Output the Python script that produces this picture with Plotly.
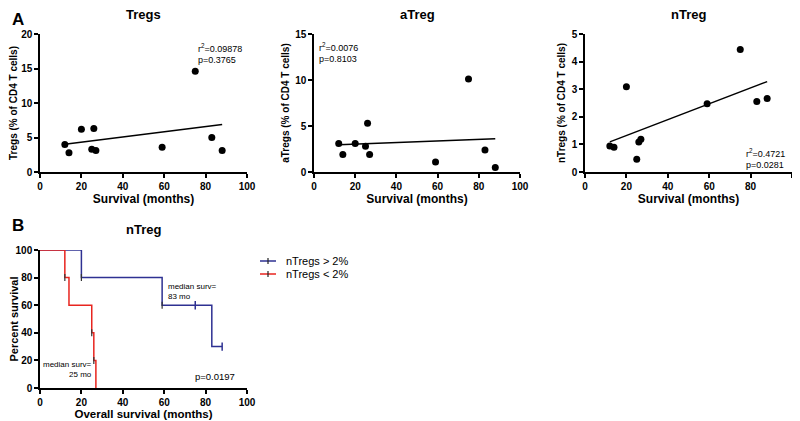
import numpy as np
import plotly.graph_objects as go

# survival (months) of the 10 patients, same for all three scatter panels
survival = [12, 14, 20, 25, 26, 27, 59, 75, 83, 88]
tregs = [4.0, 2.8, 6.2, 3.3, 6.3, 3.1, 3.6, 14.6, 5.0, 3.1]
atregs = [3.1, 1.9, 3.1, 2.8, 5.3, 1.9, 1.1, 10.1, 2.4, 0.5]
ntregs = [0.94, 0.90, 3.09, 0.46, 1.09, 1.19, 2.47, 4.44, 2.55, 2.66]

panel_titles = ["Tregs", "aTreg", "nTreg"]
y_titles = ["Tregs (% of CD4 T cells)", "aTregs (% of CD4 T cells)", "nTregs (% of CD4 T cells)"]
y_max = [20, 15, 5]
y_dtick = [5, 5, 1]
stats = ["r<sup>2</sup>=0.09878<br>p=0.3765", "r<sup>2</sup>=0.0076<br>p=0.8103", "r<sup>2</sup>=0.4721<br>p=0.0281"]

# Kaplan-Meier steps
hi_time = [0, 20, 59, 83, 88]
hi_surv = [100, 80, 60, 30, 30]
hi_cens_time = [75, 88]
hi_cens_surv = [60, 30]
hi_step_time = [20, 59]
hi_step_surv = [80, 60]
lo_time = [0, 12, 14, 25, 26, 27]
lo_surv = [100, 80, 60, 40, 20, 0]
lo_step_time = [12, 25, 26]
lo_step_surv = [80, 40, 20]

# page body has an 8px margin, so the figure is a bit smaller and shifted
OFF = 8
W, H = 800 - OFF, 421 - OFF
FONT = "Liberation Sans, Arial, sans-serif"
BLUE = "#2e3192"
RED = "#e8251f"

def px_x(p):
    return (p - OFF) / W

def px_y(p):
    return 1 - (p - OFF) / H

fig = go.Figure()

domains_x = [(40, 247), (314, 520), (585, 792)]
ys = [tregs, atregs, ntregs]

axis_common = dict(showline=True, linecolor="black", linewidth=1.5, ticks="outside", automargin=False,
                   ticklen=4, tickwidth=1.5, tickcolor="black", showgrid=False, zeroline=False,
                   tickfont=dict(family=FONT, size=10, color="black", weight="bold"))

for i in range(3):
    n = str(i + 1) if i > 0 else ""
    xa, ya = "x" + n, "y" + n
    fig.add_trace(go.Scatter(x=survival, y=ys[i], mode="markers", xaxis=xa, yaxis=ya,
                             marker=dict(color="black", size=7), showlegend=False))
    k, b = np.polyfit(survival, ys[i], 1)
    xs = np.array([min(survival), max(survival)])
    fig.add_trace(go.Scatter(x=xs, y=k * xs + b, mode="lines", xaxis=xa, yaxis=ya,
                             line=dict(color="black", width=1.5), showlegend=False))
    d = domains_x[i]
    fig.layout["xaxis" + n] = dict(axis_common, domain=[px_x(d[0]), px_x(d[1])], range=[0, 100], dtick=20,
                                   anchor=ya,
                                   title=dict(text="Survival (months)", standoff=2,
                                              font=dict(family=FONT, size=12, color="black", weight="bold")))
    fig.layout["yaxis" + n] = dict(axis_common, domain=[px_y(172), px_y(34)], range=[0, y_max[i]],
                                   dtick=y_dtick[i], anchor=xa,
                                   title=dict(text=y_titles[i], standoff=4,
                                              font=dict(family=FONT, size=10, color="black", weight="bold")))
    fig.add_annotation(x=px_x((d[0] + d[1]) / 2), y=px_y(14), xref="paper", yref="paper",
                       xanchor="center", yanchor="middle", text=panel_titles[i], showarrow=False,
                       font=dict(family=FONT, size=13, color="black", weight="bold"))

# r2 / p labels
fig.add_annotation(x=px_x(196), y=px_y(40), xref="paper", yref="paper", xanchor="left", yanchor="top",
                   text=stats[0], showarrow=False, align="left",
                   font=dict(family=FONT, size=9, color="black"))
fig.add_annotation(x=px_x(317), y=px_y(39), xref="paper", yref="paper", xanchor="left", yanchor="top",
                   text=stats[1], showarrow=False, align="left",
                   font=dict(family=FONT, size=9, color="black"))
fig.add_annotation(x=px_x(744), y=px_y(145), xref="paper", yref="paper", xanchor="left", yanchor="top",
                   text=stats[2], showarrow=False, align="left",
                   font=dict(family=FONT, size=9, color="black"))

# Kaplan-Meier panel
fig.add_trace(go.Scatter(x=hi_time, y=hi_surv, mode="lines", line=dict(color=BLUE, width=1.5, shape="hv"),
                         xaxis="x4", yaxis="y4", showlegend=False))
fig.add_trace(go.Scatter(x=hi_cens_time, y=hi_cens_surv, mode="markers", xaxis="x4", yaxis="y4",
                         marker=dict(symbol="line-ns", size=6, line=dict(color=BLUE, width=1.5)),
                         showlegend=False))
fig.add_trace(go.Scatter(x=lo_time, y=lo_surv, mode="lines", line=dict(color=RED, width=1.5, shape="hv"),
                         xaxis="x4", yaxis="y4", showlegend=False))
# small dark ticks at the step corners
fig.add_trace(go.Scatter(x=hi_step_time + lo_step_time, y=hi_step_surv + lo_step_surv, mode="markers",
                         xaxis="x4", yaxis="y4", showlegend=False,
                         marker=dict(symbol="line-ns", size=5, line=dict(color="#333333", width=1.2))))

# legend drawn by hand
leg = [("nTregs > 2%", BLUE, 261), ("nTregs < 2%", RED, 274)]
for label, col, yy in leg:
    fig.add_shape(type="line", xref="paper", yref="paper", x0=px_x(260), x1=px_x(276), y0=px_y(yy), y1=px_y(yy),
                  line=dict(color=col, width=1.5))
    fig.add_shape(type="line", xref="paper", yref="paper", x0=px_x(268), x1=px_x(268), y0=px_y(yy - 3), y1=px_y(yy + 3),
                  line=dict(color="#222222", width=1.2))
    fig.add_annotation(x=px_x(284), y=px_y(yy), xref="paper", yref="paper", xanchor="left", yanchor="middle",
                       text=label, showarrow=False, font=dict(family=FONT, size=11, color="black"))

fig.layout["xaxis4"] = dict(axis_common, domain=[px_x(40), px_x(247)], range=[0, 100], dtick=20, anchor="y4",
                            title=dict(text="Overall survival (months)", standoff=2,
                                       font=dict(family=FONT, size=11.5, color="black", weight="bold")))
fig.layout["yaxis4"] = dict(axis_common, domain=[px_y(388), px_y(250)], range=[0, 100], dtick=20, anchor="x4",
                            title=dict(text="Percent survival", standoff=4,
                                       font=dict(family=FONT, size=11, color="black", weight="bold")))
fig.add_annotation(x=px_x(143), y=px_y(230), xref="paper", yref="paper", xanchor="center", yanchor="middle",
                   text="nTreg", showarrow=False,
                   font=dict(family=FONT, size=13, color="black", weight="bold"))
fig.add_annotation(x=61, y=78, xref="x4", yref="y4", xanchor="left", yanchor="top", align="left",
                   text="median surv=<br>83 mo", showarrow=False, font=dict(family=FONT, size=8, color="black"))
fig.add_annotation(x=26, y=22, xref="x4", yref="y4", xanchor="right", yanchor="top", align="right",
                   text="median surv=<br>25 mo", showarrow=False, font=dict(family=FONT, size=8, color="black"))
fig.add_annotation(x=95, y=8, xref="x4", yref="y4", xanchor="right", yanchor="middle",
                   text="p=0.0197", showarrow=False, font=dict(family=FONT, size=9.5, color="black"))

# panel letters
fig.add_annotation(x=px_x(10), y=1, xref="paper", yref="paper", xanchor="left", yanchor="top",
                   text="A", showarrow=False, font=dict(family=FONT, size=17, color="black", weight="bold"))
fig.add_annotation(x=px_x(10), y=px_y(226), xref="paper", yref="paper", xanchor="left", yanchor="middle",
                   text="B", showarrow=False, font=dict(family=FONT, size=17, color="black", weight="bold"))

fig.update_layout(width=W, height=H, margin=dict(l=0, r=0, t=0, b=0), plot_bgcolor="white",
                  paper_bgcolor="white", showlegend=False)

fig.write_html("out.html")
